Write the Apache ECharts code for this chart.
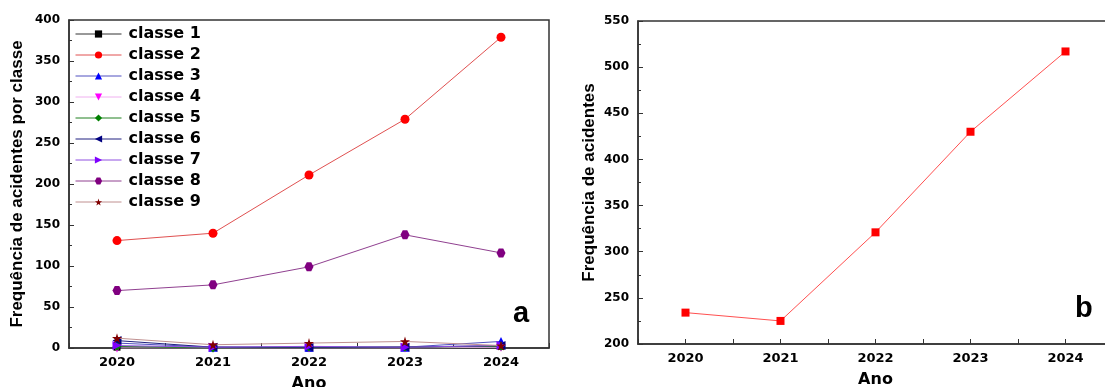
<!DOCTYPE html>
<html>
<head>
<meta charset="utf-8">
<script src="https://cdn.jsdelivr.net/npm/echarts@6/dist/echarts.min.js"></script>
<style>
html,body{margin:0;padding:0;background:#fff;}
#c{width:1105px;height:387px;}
</style>
</head>
<body>
<div id="c"></div>
<script>
const years = [2020, 2021, 2022, 2023, 2024];
const classe1 = [1, 1, 0, 1, 2];
const classe2 = [131, 140, 211, 279, 379];
const classe3 = [6, 1, 1, 1, 8];
const classe4 = [0, 0, 0, 0, 1];
const classe5 = [2, 0, 1, 1, 2];
const classe6 = [9, 1, 1, 1, 3];
const classe7 = [3, 1, 2, 1, 3];
const classe8 = [70, 77, 99, 138, 116];
const classe9 = [12, 4, 6, 8, 3];
const total = [234, 225, 321, 430, 517];

const FONT = 'Liberation Sans, Arial, sans-serif';
const WFONT = 'DejaVu Sans, Verdana, sans-serif';
const pair = arr => years.map((y, i) => [y, arr[i]]);

const classes = [
  {name: 'classe 1', data: classe1, color: '#000000', line: '#333333', symbol: 'rect', size: 7},
  {name: 'classe 2', data: classe2, color: '#ff0000', line: '#e05050', symbol: 'circle', size: 9},
  {name: 'classe 3', data: classe3, color: '#0000ff', line: '#5050c0', symbol: 'triangle', size: 9},
  {name: 'classe 4', data: classe4, color: '#ff00ff', line: '#f0b0f0', symbol: 'path://M0,0 L100,0 L50,100 Z', size: 9},
  {name: 'classe 5', data: classe5, color: '#008000', line: '#208020', symbol: 'diamond', size: 9},
  {name: 'classe 6', data: classe6, color: '#000080', line: '#202080', symbol: 'path://M100,0 L100,100 L0,50 Z', size: 9},
  {name: 'classe 7', data: classe7, color: '#7f00ff', line: '#9050e0', symbol: 'path://M0,0 L0,100 L100,50 Z', size: 9},
  {name: 'classe 8', data: classe8, color: '#800080', line: '#904090', symbol: 'path://M25,0 L75,0 L100,50 L75,100 L25,100 L0,50 Z', size: 9},
  {name: 'classe 9', data: classe9, color: '#800000', line: '#c09090', symbol: 'path://M50,0 L61,35 L98,35 L68,57 L79,91 L50,70 L21,91 L32,57 L2,35 L39,35 Z', size: 10}
];

const xAxisBase = (gi) => ({
  type: 'value', gridIndex: gi, min: 2019.5, max: 2024.5, interval: 0.5,
  axisLine: {show: true, onZero: false, lineStyle: {color: '#333', width: 1.5}},
  axisTick: {show: true, inside: true, length: 5, lineStyle: {color: '#333'}},
  axisLabel: {
    color: '#000', fontWeight: 'bold', fontSize: 13, fontFamily: WFONT, margin: 8,
    formatter: v => (Math.abs(v - Math.round(v)) < 1e-6 ? String(Math.round(v)) : '')
  },
  splitLine: {show: false},
  name: 'Ano', nameLocation: 'middle', nameGap: 28,
  nameTextStyle: {color: '#000', fontWeight: 'bold', fontSize: 16, fontFamily: WFONT}
});

const yAxisBase = (gi, min, max, name, gap) => ({
  type: 'value', gridIndex: gi, min: min, max: max, interval: 50,
  axisLine: {show: true, lineStyle: {color: '#333', width: 1.5}},
  axisTick: {show: true, inside: true, length: 5, lineStyle: {color: '#333'}},
  minorTick: {show: true, splitNumber: 2, length: 3, lineStyle: {color: '#333'}},
  axisLabel: {color: '#000', fontWeight: 'bold', fontSize: 12, fontFamily: WFONT, margin: 9},
  splitLine: {show: false},
  name: name, nameLocation: 'middle', nameGap: gap, nameRotate: 90,
  nameTextStyle: {color: '#000', fontWeight: 'bold', fontSize: 17, fontFamily: FONT}
});

const series = classes.map(c => ({
  name: c.name, type: 'line', xAxisIndex: 0, yAxisIndex: 0,
  data: pair(c.data),
  symbol: c.symbol, symbolSize: c.size, showSymbol: true,
  itemStyle: {color: c.color},
  lineStyle: {color: c.line, width: 1},
  z: c.name === 'classe 9' ? 5 : 3
}));

series.push({
  name: 'total', type: 'line', xAxisIndex: 1, yAxisIndex: 1,
  data: pair(total), symbol: 'rect', symbolSize: 8,
  itemStyle: {color: '#ff0000'},
  lineStyle: {color: '#ff5050', width: 1}
});

const chart = echarts.init(document.getElementById('c'), null, {renderer: 'canvas'});
chart.setOption({
  animation: false,
  backgroundColor: '#fff',
  grid: [
    {left: 69, top: 20, width: 480, height: 328, show: true, borderColor: '#333', borderWidth: 1.5, backgroundColor: 'transparent', containLabel: false, outerBoundsMode: 'none'},
    {left: 638, top: 21, width: 475, height: 323, show: true, borderColor: '#333', borderWidth: 1.5, backgroundColor: 'transparent', containLabel: false, outerBoundsMode: 'none'}
  ],
  xAxis: [xAxisBase(0), xAxisBase(1)],
  yAxis: [
    yAxisBase(0, 0, 400, 'Frequência de acidentes por classe', 43),
    yAxisBase(1, 200, 550, 'Frequência de acidentes', 40)
  ],
  legend: {
    data: classes.map(c => c.name),
    orient: 'vertical', left: 70, top: 21,
    itemWidth: 46, itemHeight: 9, itemGap: 5,
    lineStyle: {width: 1},
    textStyle: {color: '#000', fontWeight: 'bold', fontSize: 16, fontFamily: WFONT, padding: [0, 0, 0, 2]}
  },
  graphic: [
    {type: 'text', left: 513, top: 299, style: {text: 'a', font: 'bold 29px ' + FONT, fill: '#000'}},
    {type: 'text', left: 1075, top: 294, style: {text: 'b', font: 'bold 29px ' + FONT, fill: '#000'}}
  ],
  series: series
});
</script>
</body>
</html>
